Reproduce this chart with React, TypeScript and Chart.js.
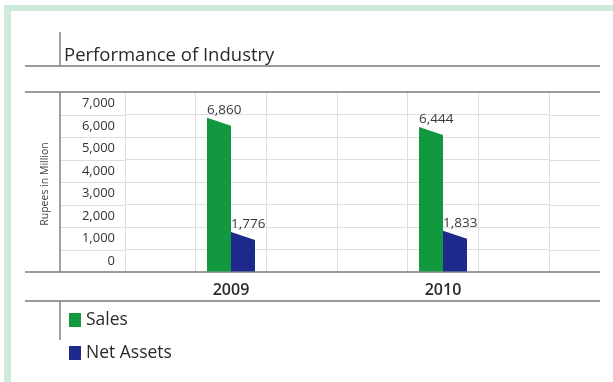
import { useEffect, useRef } from 'react';
import { Chart, registerables } from 'chart.js';

Chart.register(...registerables);

const categories = ['2009', '2010'];
const salesValues = [6860, 6444];
const netAssetsValues = [1776, 1833];
const seriesNames = ['Sales', 'Net Assets'];
const seriesColors = ['#12983f', '#1e2a8b'];
const yMax = 8000;
const yStep = 1000;
const gridDivisions = 6;
const titleText = 'Performance of Industry';
const yAxisTitle = 'Rupees in Million';

const FONT = '"Open Sans", "Noto Sans", sans-serif';
const FRAME = '#cdeadb';
const DARK = '#7a7a7a';
const GRID = '#dedede';
const TEXT = '#2a2a2a';

const fmt = (v: number) => v.toLocaleString('en-US');

const decor = {
  id: 'decor',
  beforeDraw(chart: any) {
    const ctx = chart.ctx;
    ctx.save();
    ctx.fillStyle = '#ffffff';
    ctx.fillRect(0, 0, chart.width, chart.height);
    ctx.fillStyle = FRAME;
    ctx.fillRect(4, 5, chart.width - 4, 6);
    ctx.fillRect(4, 5, 7, chart.height - 5);
    ctx.restore();
  },
  beforeDatasetsDraw(chart: any) {
    const { ctx, chartArea } = chart;
    const ys = chart.scales.y;
    const lineLeft = 25;
    const lineRight = 600;
    const axisX = 60;
    ctx.save();

    // grid extensions
    ctx.strokeStyle = GRID;
    ctx.lineWidth = 1;
    for (let v = yStep; v < yMax; v += yStep) {
      const py = Math.round(ys.getPixelForValue(v)) + 0.5;
      ctx.beginPath();
      ctx.moveTo(axisX, py);
      ctx.lineTo(chartArea.left, py);
      ctx.moveTo(chartArea.right, py);
      ctx.lineTo(lineRight, py);
      ctx.stroke();
    }

    // dark frame lines
    ctx.strokeStyle = DARK;
    ctx.lineWidth = 1.6;
    const topY = ys.getPixelForValue(yMax);
    const botY = ys.getPixelForValue(0);
    const titleLineY = 66;
    const legendLineY = 301;
    [titleLineY, topY, botY, legendLineY].forEach((py) => {
      ctx.beginPath();
      ctx.moveTo(lineLeft, py);
      ctx.lineTo(lineRight, py);
      ctx.stroke();
    });
    ctx.lineWidth = 1.4;
    [[32, titleLineY], [topY, botY], [legendLineY, 340]].forEach(([a, b]) => {
      ctx.beginPath();
      ctx.moveTo(axisX, a);
      ctx.lineTo(axisX, b);
      ctx.stroke();
    });

    // title
    ctx.fillStyle = TEXT;
    ctx.font = `18.5px ${FONT}`;
    ctx.textAlign = 'left';
    ctx.textBaseline = 'alphabetic';
    ctx.fillText(titleText, 64, 61);

    // y axis title
    ctx.save();
    ctx.translate(45, (topY + botY) / 2 + 2);
    ctx.rotate(-Math.PI / 2);
    ctx.font = `10.5px ${FONT}`;
    ctx.fillStyle = '#444';
    ctx.textAlign = 'center';
    ctx.textBaseline = 'middle';
    ctx.fillText(yAxisTitle, 0, 0);
    ctx.restore();

    // bars with slanted tops
    const slant = 8;
    chart.data.datasets.forEach((ds: any, i: number) => {
      const meta = chart.getDatasetMeta(i);
      meta.data.forEach((el: any, j: number) => {
        const { x, y, base, width } = el.getProps(['x', 'y', 'base', 'width'], true);
        const l = x - width / 2;
        const r = x + width / 2;
        ctx.fillStyle = ds.backgroundColor;
        ctx.beginPath();
        ctx.moveTo(l, base);
        ctx.lineTo(l, y);
        ctx.lineTo(r, y + slant);
        ctx.lineTo(r, base);
        ctx.closePath();
        ctx.fill();
        ctx.fillStyle = '#3a3a3a';
        ctx.font = `13.5px ${FONT}`;
        ctx.textAlign = 'left';
        ctx.textBaseline = 'bottom';
        ctx.fillText(fmt(ds.data[j]), l, y - 1);
      });
    });

    // legend
    const legendY = [320, 353];
    chart.data.datasets.forEach((ds: any, i: number) => {
      ctx.fillStyle = ds.backgroundColor;
      ctx.fillRect(69, legendY[i] - 7, 12, 14);
      ctx.fillStyle = TEXT;
      ctx.font = `17.5px ${FONT}`;
      ctx.textAlign = 'left';
      ctx.textBaseline = 'middle';
      ctx.fillText(ds.label, 86, legendY[i]);
    });

    ctx.restore();
    return false;
  },
};

export default function App() {
  const ref = useRef<HTMLCanvasElement>(null);
  useEffect(() => {
    if (!ref.current) return;
    const chart = new Chart(ref.current, {
      type: 'bar',
      data: {
        labels: categories,
        datasets: [
          { label: seriesNames[0], data: salesValues, backgroundColor: seriesColors[0], xAxisID: 'x' },
          { label: seriesNames[1], data: netAssetsValues, backgroundColor: seriesColors[1], xAxisID: 'x' },
        ],
      },
      options: {
        responsive: false,
        animation: false,
        devicePixelRatio: 1,
        layout: { padding: { top: 92, right: 64, bottom: 80, left: 0 } },
        datasets: { bar: { barThickness: 24 } } as any,
        plugins: { legend: { display: false }, title: { display: false }, tooltip: { enabled: false } },
        scales: {
          x: {
            type: 'category',
            position: 'bottom',
            grid: { display: false },
            border: { display: false },
            ticks: { color: TEXT, padding: 1, font: { family: FONT, size: 16, weight: '600' } },
            afterFit: (s: any) => { s.height = 30; },
          },
          x2: {
            type: 'linear',
            position: 'bottom',
            offset: false,
            min: 0,
            max: gridDivisions,
            ticks: { display: false, stepSize: 1 },
            grid: { color: GRID, drawTicks: false, offset: false },
            border: { display: false },
            afterFit: (s: any) => { s.height = 0; },
          },
          y: {
            min: 0,
            max: yMax,
            ticks: {
              stepSize: yStep,
              padding: 10,
              labelOffset: -11,
              color: '#333',
              font: { family: FONT, size: 13 },
              callback: (v: any) => (v >= yMax ? '' : fmt(Number(v))),
            },
            grid: {
              drawTicks: false,
              color: (c: any) => (c.tick && (c.tick.value === 0 || c.tick.value === yMax) ? 'rgba(0,0,0,0)' : GRID),
            },
            border: { display: false },
            afterFit: (s: any) => { s.width = 125; },
          },
        },
      },
      plugins: [decor],
    });
    return () => chart.destroy();
  }, []);
  return (
    <div style={{ position: 'absolute', left: 0, top: 0, width: 613, height: 382 }}>
      <canvas ref={ref} width={613} height={382} />
    </div>
  );
}
